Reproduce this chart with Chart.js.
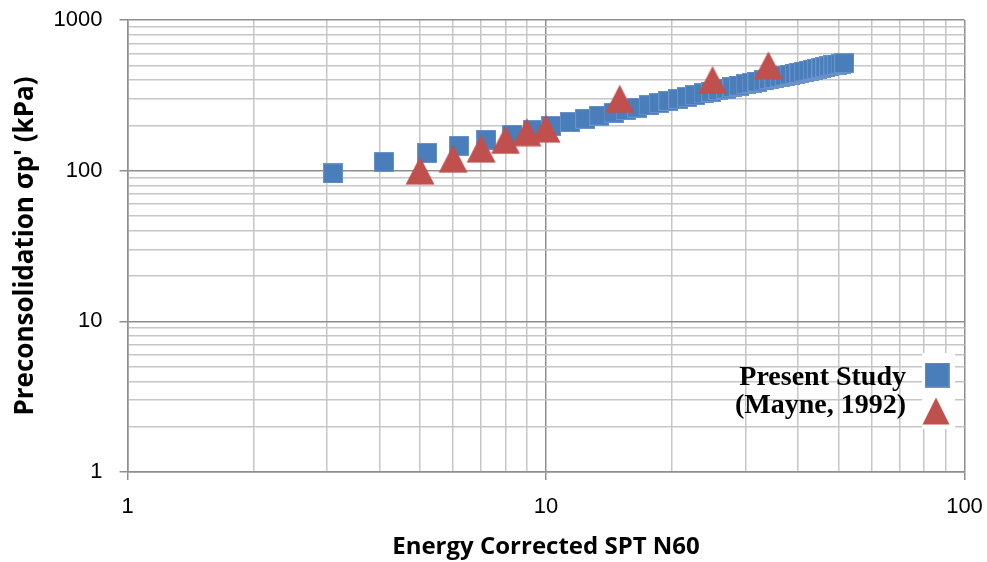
<!DOCTYPE html>
<html>
<head>
<meta charset="utf-8">
<script src="https://cdn.jsdelivr.net/npm/chart.js@4/dist/chart.umd.min.js"></script>
<style>
  html, body { margin: 0; padding: 0; background: #ffffff; }
  #wrap { width: 987px; height: 562px; position: relative; }
</style>
</head>
<body>
<div id="wrap"><canvas id="c"></canvas></div>
<script>
// ---- Data ----
const seriesNames = ['Present Study', '(Mayne, 1992)'];

const presentN = [3.1, 4.1, 5.2, 6.2, 7.2, 8.3, 9.3, 10.3, 11.4, 12.4, 13.4, 14.5, 15.5, 16.5, 17.6, 18.6,
  19.6, 20.7, 21.7, 22.7, 23.8, 24.8, 25.8, 26.9, 27.9, 28.9, 30, 31, 32, 33.1, 34.1, 35.1, 36.2, 37.2,
  38.2, 39.3, 40.3, 41.3, 42.4, 43.4, 44.4, 45.5, 46.5, 47.5, 48.6, 49.6, 50.6, 51.6];
const presentSigma = [96, 114, 131, 146, 160, 173, 186, 198, 210, 221, 232, 242, 253, 262, 272, 281,
  291, 300, 308, 317, 326, 334, 343, 351, 359, 367, 375, 382, 390, 398, 405, 413, 420, 427,
  434, 441, 447, 455, 461, 468, 474, 481, 487, 493, 500, 506, 512, 518];

const mayneN = [5, 6, 7, 8, 9, 10, 15, 25, 34];
const mayneSigma = [100, 120, 140, 160, 180, 190, 300, 400, 500];

const xTickLabels = ['1', '10', '100'];
const yTickLabels = ['1', '10', '100', '1000'];

const xTitle = 'Energy Corrected SPT N60';
const yTitle = "Preconsolidation σp' (kPa)";

// ---- Styling ----
const blue = '#4A7EBB';
const red = '#C0504D';

function makeSquare(size) {
  const c = document.createElement('canvas');
  c.width = size; c.height = size;
  const g = c.getContext('2d');
  g.fillStyle = blue;
  g.fillRect(0, 0, size, size);
  g.strokeStyle = 'rgba(110,150,205,0.9)';
  g.lineWidth = 1;
  g.strokeRect(0.5, 0.5, size - 1, size - 1);
  return c;
}
function makeTriangle(w, h) {
  const c = document.createElement('canvas');
  c.width = w; c.height = h;
  const g = c.getContext('2d');
  g.fillStyle = red;
  g.beginPath();
  g.moveTo(w / 2, 0.5);
  g.lineTo(w - 0.5, h - 0.5);
  g.lineTo(0.5, h - 0.5);
  g.closePath();
  g.fill();
  return c;
}
const sqImg = makeSquare(20);
const triImg = makeTriangle(30, 29);
const sqLegend = makeSquare(25);
const triLegend = makeTriangle(28, 28);

function isMajor(v) {
  const l = Math.log10(v);
  return Math.abs(l - Math.round(l)) < 1e-9;
}
function buildLogTicks(labels) {
  const out = [];
  const lo = Number(labels[0]), hi = Number(labels[labels.length - 1]);
  for (let d = lo; d < hi; d *= 10) {
    for (let m = 1; m < 10; m++) out.push({ value: d * m });
  }
  out.push({ value: hi });
  return out;
}

const legendPlugin = {
  id: 'customLegend',
  afterDraw(chart) {
    const ctx = chart.ctx;
    ctx.save();
    ctx.fillStyle = '#ffffff';
    ctx.fillRect(922, 353, 33, 76);
    ctx.drawImage(sqLegend, 937 - 12.5, 375 - 12.5);
    ctx.drawImage(triLegend, 936 - 14, 411 - 14);
    ctx.fillStyle = '#000000';
    ctx.font = 'bold 28px "Liberation Serif"';
    ctx.textAlign = 'right';
    ctx.textBaseline = 'alphabetic';
    const ds = chart.data.datasets;
    ctx.fillText(ds[0].label, 906, 385);
    ctx.fillText(ds[1].label, 906, 413);
    ctx.restore();
  }
};

const gridColor = (ctx) => (ctx.tick && isMajor(ctx.tick.value)) ? '#8E8E8E' : '#C6C6C6';
const tickColor = (ctx) => (ctx.tick && isMajor(ctx.tick.value)) ? '#8E8E8E' : 'rgba(0,0,0,0)';

new Chart(document.getElementById('c'), {
  type: 'scatter',
  data: {
    datasets: [
      {
        label: seriesNames[0],
        data: presentN.map((n, i) => ({ x: n, y: presentSigma[i] })),
        pointStyle: sqImg,
        backgroundColor: blue,
        borderColor: blue,
        order: 2
      },
      {
        label: seriesNames[1],
        data: mayneN.map((n, i) => ({ x: n, y: mayneSigma[i] })),
        pointStyle: triImg,
        backgroundColor: red,
        borderColor: red,
        order: 1
      }
    ]
  },
  options: {
    responsive: true,
    maintainAspectRatio: false,
    animation: false,
    layout: { padding: 0 },
    plugins: {
      legend: { display: false },
      tooltip: { enabled: false }
    },
    scales: {
      x: {
        type: 'logarithmic',
        min: 1, max: 100,
        afterFit(s) { s.height = 90; s.paddingLeft = 0; s.paddingRight = 22.5; },
        afterBuildTicks(s) { s.ticks = buildLogTicks(xTickLabels); },
        grid: { color: gridColor, tickColor: tickColor, lineWidth: 1.5, tickLength: 8 },
        border: { color: '#8E8E8E', width: 1.5 },
        ticks: {
          autoSkip: false, maxRotation: 0,
          color: '#000000',
          font: { family: '"Liberation Sans"', size: 22 },
          padding: 14,
          callback: (v) => xTickLabels.includes(String(v)) ? String(v) : ''
        },
        title: {
          display: true, text: xTitle, color: '#000000',
          font: { family: '"Open Sans"', size: 24, weight: 'bold' },
          padding: { top: 3, bottom: 0 }
        }
      },
      y: {
        type: 'logarithmic',
        min: 1, max: 1000,
        afterFit(s) { s.width = 127.5; s.paddingTop = 20; s.paddingBottom = 0; },
        afterBuildTicks(s) { s.ticks = buildLogTicks(yTickLabels); },
        grid: { color: gridColor, tickColor: tickColor, lineWidth: 1.5, tickLength: 8 },
        border: { color: '#8E8E8E', width: 1.5 },
        ticks: {
          autoSkip: false,
          color: '#000000',
          font: { family: '"Liberation Sans"', size: 22 },
          padding: 17,
          callback: (v) => yTickLabels.includes(String(v)) ? String(v) : ''
        },
        title: {
          display: true, text: yTitle, color: '#000000',
          font: { family: '"Open Sans"', size: 26, weight: 'bold' },
          padding: { top: 10, bottom: 0 }
        }
      }
    }
  },
  plugins: [legendPlugin]
});
</script>
</body>
</html>
